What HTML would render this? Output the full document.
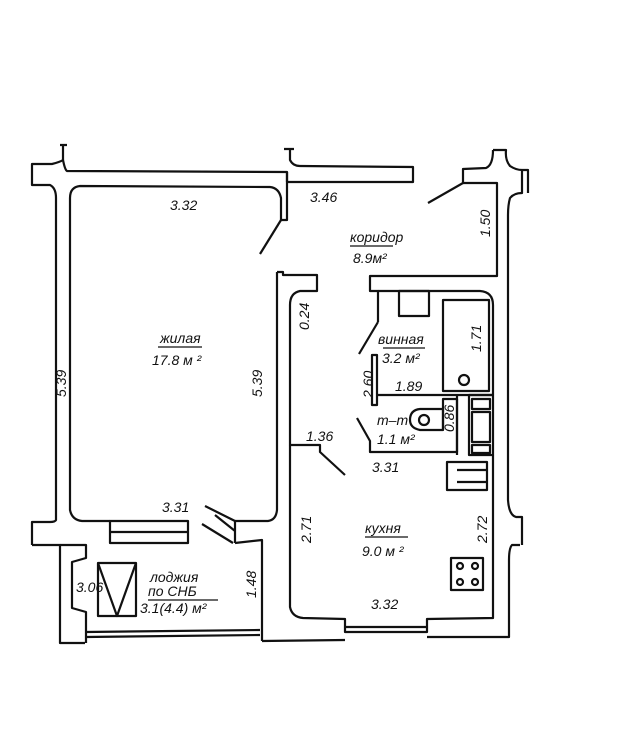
<!DOCTYPE html>
<html><head><meta charset="utf-8"><style>
html,body{margin:0;padding:0;background:#fff}
svg{display:block}
text{font-family:"Liberation Sans",sans-serif;font-style:italic;font-size:14px;fill:#111}
</style></head><body>
<svg width="624" height="750" viewBox="0 0 624 750" xmlns="http://www.w3.org/2000/svg">
<g fill="none" stroke="#111" stroke-width="2.2" stroke-linejoin="round">
<path d="M60 145 L67 145 M63 145 L63 160 Q60 162 52 164 L32 164 L32 185 L50 185 Q56 188 56 198 L56 520 Q55 522 50 522 L32 522 L32 545"/>
<path d="M63 160 Q65 170 67 171 L287 172 L287 220 L281 220 L281 198 Q279 188 270 187 L80 186 Q70 187 70 198 L70 510 Q72 520 82 521 L110 521"/>
<path d="M284 149 L294 149 M290 149 L290 160 Q293 166 300 166 L413 167 L413 182 L287 182"/>
<path d="M287 172 L287 182"/>
<path d="M493 150 L506 150 Q505 160 510 166 Q516 170 522 170 L528 170 L528 193 M522 170 L522 193 Q514 193 510 198 Q508 205 508 215 L508 500 Q509 515 516 517 L522 517 L522 545 M522 517 L522 520"/>
<path d="M493 150 Q493 165 486 168 L463 169 L463 183 L497 183 L497 276 L370 276 L370 291 L378 291 L378 322"/>
<path d="M428 203 L463 183"/>
<path d="M260 254 L281 220"/>
<path d="M277 272 L283 272 L283 275 L317 275 L317 291 L300 291 Q290 293 290 305 L290 445 L320 445 L320 452 L345 475"/>
<path d="M277 272 L277 510 Q276 520 268 521 L235 521 L235 531 L215 515 M235 531 L235 543"/>
<path d="M205 506 L235 521"/>
<path d="M202 524 L233 543"/>
<path d="M378 291 L480 291 Q493 292 493 305 L493 395"/>
<rect x="399" y="291" width="30" height="25"/>
<rect x="443" y="300" width="46" height="91"/>
<circle cx="464" cy="380" r="5"/>
<path d="M359 354 L378 322"/>
<path d="M372 355 L377 355 L377 405 L372 405 Z"/>
<path d="M376 395 L493 395"/>
<path d="M457 395 L457 455"/>
<rect x="469" y="395" width="24" height="60"/>
<rect x="472" y="399" width="18" height="10"/>
<rect x="472" y="412" width="18" height="30"/>
<rect x="472" y="445" width="18" height="8"/>
<path d="M357 418 L370 441 L370 452 L457 452 L457 399 L443 399 L443 430"/>
<path d="M420 409 L443 409 L443 430 L420 430 Q410 428 410 420 Q410 410 420 409 Z"/>
<circle cx="424" cy="420" r="5"/>
<path d="M290 452 L290 607 Q292 617 303 618 L345 619 L345 632 L427 632 L427 619 L493 618 L493 455"/>
<path d="M290 445 L290 452"/>
<path d="M345 627 L427 627"/>
<path d="M447 462 L487 462 L487 490 L447 490 Z M457 470 L487 470 L487 482 L457 482"/>
<rect x="451" y="558" width="32" height="32"/>
<circle cx="460" cy="566" r="3"/><circle cx="475" cy="566" r="3"/>
<circle cx="460" cy="582" r="3"/><circle cx="475" cy="582" r="3"/>
<path d="M520 545 L512 545 Q509 548 509 560 L509 637 L427 637"/>
<path d="M262 641 L262 540 L235 543"/>
<path d="M262 641 L345 640"/>
<path d="M32 545 L60 545 L60 643 L85 643"/>
<path d="M110 521 L110 543 L188 543 L188 521 Z M110 532 L188 532"/>
<path d="M60 545 L86 545 L86 558 L72 562 L72 608 L86 612 L86 643"/>
<path d="M86 632 L260 630 M86 637 L260 635"/>
<rect x="98" y="563" width="38" height="53"/>
<path d="M98 563 L117 616 L136 563"/>
</g>
<text x="170" y="210">3.32</text>
<text x="310" y="202">3.46</text>
<text x="350" y="242">коридор</text>
<line x1="350" y1="246" x2="393" y2="246" stroke="#111" stroke-width="1.2"/>
<text x="353" y="263">8.9м²</text>
<text transform="translate(490,237) rotate(-90)">1.50</text>
<text transform="translate(309,330) rotate(-90)">0.24</text>
<text x="160" y="343">жилая</text>
<line x1="158" y1="347" x2="202" y2="347" stroke="#111" stroke-width="1.2"/>
<text x="152" y="365">17.8 м ²</text>
<text transform="translate(66,397) rotate(-90)">5.39</text>
<text transform="translate(262,397) rotate(-90)">5.39</text>
<text x="378" y="344">винная</text>
<line x1="383" y1="348" x2="425" y2="348" stroke="#111" stroke-width="1.2"/>
<text x="382" y="363">3.2 м²</text>
<text transform="translate(481,352) rotate(-90)">1.71</text>
<text transform="translate(373,398) rotate(-90)">2.60</text>
<text x="395" y="391">1.89</text>
<text transform="translate(454,432) rotate(-90)">0.86</text>
<text x="377" y="425">т–т</text>
<text x="377" y="444">1.1 м²</text>
<text x="306" y="441">1.36</text>
<text x="372" y="472">3.31</text>
<text x="162" y="512">3.31</text>
<text transform="translate(311,543) rotate(-90)">2.71</text>
<text x="365" y="533">кухня</text>
<line x1="365" y1="537" x2="408" y2="537" stroke="#111" stroke-width="1.2"/>
<text x="362" y="556">9.0 м ²</text>
<text transform="translate(487,543) rotate(-90)">2.72</text>
<text x="371" y="609">3.32</text>
<text x="150" y="582">лоджия</text>
<text x="148" y="596">по СНБ</text>
<line x1="148" y1="600" x2="218" y2="600" stroke="#111" stroke-width="1.2"/>
<text x="140" y="613">3.1(4.4) м²</text>
<text x="76" y="592">3.06</text>
<text transform="translate(256,598) rotate(-90)">1.48</text>
</svg>
</body></html>
